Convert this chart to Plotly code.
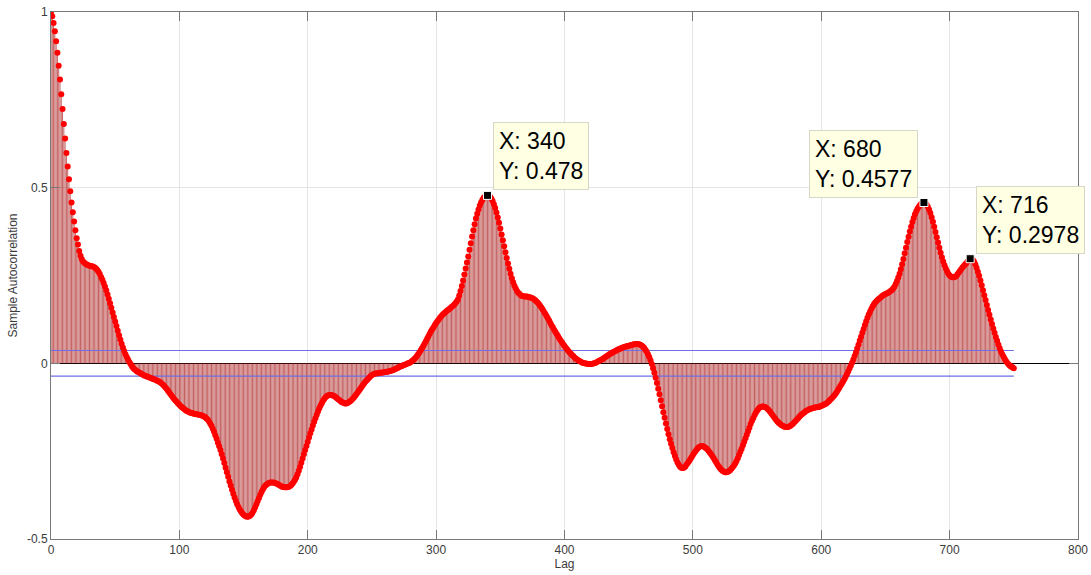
import plotly.graph_objects as go

# Sample autocorrelation values, lags 0..750
acf_000 = [1.000, .988, .969, .945, .917, .884, .847, .808, .766, .724,
           .681, .640, .599, .560, .524, .490, .458, .430, .404, .379,
           .356, .338, .320, .306, .296, .290, .286, .283, .281, .279,
           .278, .277, .276, .275, .273, .270, .266, .261, .254, .246,
           .238, .229, .219, .208, .196, .184, .171, .158, .145, .132,
           .119, .106, .093, .080, .068, .056, .045, .035, .026, .018,
           .011, .004, -.002, -.008, -.013, -.017, -.020, -.023, -.025, -.027,
           -.029, -.031, -.033, -.035, -.036, -.038, -.039, -.041, -.042, -.044,
           -.045, -.046, -.048, -.050, -.052, -.054, -.057, -.060, -.064, -.068,
           -.072, -.077, -.082, -.087, -.092, -.097, -.102, -.106, -.110, -.114]
acf_100 = [-.118, -.122, -.125, -.128, -.131, -.134, -.136, -.138, -.140, -.141,
           -.142, -.143, -.144, -.145, -.145, -.146, -.147, -.148, -.149, -.151,
           -.153, -.156, -.160, -.165, -.171, -.178, -.186, -.195, -.205, -.215,
           -.226, -.236, -.247, -.259, -.271, -.284, -.297, -.310, -.323, -.336,
           -.348, -.360, -.371, -.382, -.392, -.401, -.409, -.416, -.422, -.427,
           -.431, -.434, -.436, -.437, -.436, -.434, -.430, -.425, -.418, -.410,
           -.401, -.392, -.383, -.374, -.366, -.359, -.353, -.348, -.345, -.342,
           -.340, -.339, -.339, -.339, -.340, -.341, -.343, -.345, -.347, -.349,
           -.351, -.352, -.353, -.353, -.353, -.352, -.350, -.347, -.343, -.338,
           -.332, -.325, -.316, -.306, -.295, -.283, -.271, -.259, -.247, -.235]
acf_200 = [-.223, -.211, -.199, -.188, -.177, -.166, -.156, -.146, -.137, -.128,
           -.120, -.113, -.106, -.101, -.096, -.093, -.091, -.090, -.090, -.091,
           -.092, -.094, -.097, -.100, -.103, -.106, -.109, -.111, -.113, -.114,
           -.114, -.113, -.111, -.108, -.105, -.101, -.097, -.092, -.087, -.082,
           -.077, -.072, -.067, -.062, -.057, -.052, -.048, -.044, -.040, -.036,
           -.033, -.031, -.030, -.029, -.028, -.028, -.027, -.027, -.026, -.026,
           -.025, -.024, -.024, -.023, -.022, -.021, -.020, -.018, -.017, -.015,
           -.013, -.011, -.009, -.008, -.006, -.005, -.003, -.002, .000, .001,
           .003, .006, .009, .012, .016, .021, .026, .031, .037, .043,
           .049, .056, .063, .070, .077, .084, .091, .097, .103, .109]
acf_300 = [.115, .120, .125, .130, .134, .138, .142, .145, .148, .151,
           .154, .157, .160, .163, .167, .171, .176, .182, .193, .206,
           .220, .236, .253, .270, .287, .304, .323, .342, .361, .379,
           .396, .412, .426, .438, .449, .458, .465, .471, .475, .477,
           .478, .477, .474, .469, .462, .453, .442, .429, .415, .400,
           .384, .367, .350, .333, .316, .300, .284, .269, .255, .242,
           .231, .221, .213, .206, .201, .197, .194, .192, .191, .190,
           .190, .190, .189, .188, .187, .185, .183, .180, .177, .173,
           .169, .164, .159, .153, .147, .141, .135, .128, .122, .115,
           .108, .102, .095, .089, .083, .077, .071, .065, .060, .054]
acf_400 = [.049, .044, .040, .035, .031, .027, .023, .020, .016, .013,
           .010, .008, .006, .004, .002, .001, .000, -.001, -.001, -.002,
           -.002, -.002, -.001, .000, .001, .003, .005, .007, .009, .011,
           .013, .016, .018, .021, .023, .026, .028, .030, .032, .034,
           .036, .038, .040, .041, .043, .044, .046, .047, .048, .049,
           .050, .051, .052, .053, .054, .054, .055, .055, .054, .053,
           .051, .048, .044, .039, .033, .026, .018, .009, -.002, -.014,
           -.027, -.041, -.056, -.072, -.088, -.105, -.122, -.139, -.155, -.171,
           -.187, -.202, -.216, -.229, -.241, -.253, -.264, -.274, -.282, -.289,
           -.294, -.297, -.298, -.297, -.294, -.289, -.284, -.279, -.273, -.267]
acf_500 = [-.261, -.255, -.250, -.245, -.241, -.238, -.236, -.235, -.236, -.238,
           -.241, -.244, -.248, -.253, -.258, -.263, -.269, -.275, -.281, -.287,
           -.293, -.298, -.302, -.306, -.308, -.310, -.310, -.309, -.307, -.304,
           -.300, -.296, -.291, -.285, -.278, -.270, -.261, -.252, -.243, -.233,
           -.223, -.213, -.203, -.193, -.183, -.173, -.164, -.156, -.148, -.141,
           -.135, -.130, -.126, -.124, -.123, -.123, -.124, -.126, -.129, -.133,
           -.137, -.142, -.147, -.152, -.157, -.162, -.166, -.170, -.173, -.176,
           -.178, -.180, -.181, -.181, -.181, -.180, -.178, -.175, -.172, -.168,
           -.164, -.160, -.156, -.152, -.148, -.145, -.142, -.139, -.136, -.134,
           -.132, -.130, -.129, -.128, -.127, -.126, -.125, -.125, -.124, -.123]
acf_600 = [-.121, -.120, -.118, -.116, -.114, -.111, -.108, -.104, -.100, -.096,
           -.092, -.087, -.082, -.076, -.070, -.064, -.058, -.052, -.045, -.038,
           -.031, -.023, -.015, -.007, .002, .011, .021, .031, .042, .053,
           .065, .076, .087, .098, .109, .120, .130, .139, .147, .155,
           .162, .168, .173, .177, .181, .184, .187, .190, .193, .195,
           .197, .199, .201, .203, .206, .209, .213, .218, .226, .234,
           .244, .255, .268, .282, .297, .313, .329, .345, .360, .375,
           .389, .402, .414, .424, .433, .440, .446, .451, .455, .457,
           .4577, .456, .452, .446, .438, .428, .416, .403, .389, .374,
           .359, .344, .329, .315, .302, .290, .279, .270, .262, .255]
acf_700 = [.250, .247, .245, .245, .246, .248, .253, .258, .263, .268,
           .273, .277, .281, .285, .290, .294, .2978, .297, .295, .290,
           .282, .272, .261, .249, .236, .222, .208, .194, .180, .166,
           .152, .138, .125, .112, .099, .087, .075, .064, .053, .043,
           .034, .026, .019, .012, .006, .001, -.003, -.007, -.010, -.012,
           -.014]

acf = acf_000 + acf_100 + acf_200 + acf_300 + acf_400 + acf_500 + acf_600 + acf_700
lags = list(range(len(acf)))

conf_bound = 0.0365
max_lag = 750

tip_x = [340, 680, 716]
tip_y = [0.478, 0.4577, 0.2978]
tip_text = ["X: 340<br>Y: 0.478", "X: 680<br>Y: 0.4577", "X: 716<br>Y: 0.2978"]

# build stems
sx, sy = [], []
for k, v in zip(lags, acf):
    sx += [k, k, None]
    sy += [0, v, None]

fig = go.Figure()
fig.add_trace(go.Scatter(x=sx, y=sy, mode="lines",
                         line=dict(color="rgb(170,30,30)", width=0.7),
                         hoverinfo="skip"))
fig.add_trace(go.Scatter(x=[0, max_lag], y=[conf_bound, conf_bound], mode="lines",
                         line=dict(color="rgb(110,110,230)", width=1.2)))
fig.add_trace(go.Scatter(x=[0, max_lag], y=[-conf_bound, -conf_bound], mode="lines",
                         line=dict(color="rgb(110,110,230)", width=1.2)))
fig.add_trace(go.Scatter(x=lags, y=acf, mode="markers",
                         marker=dict(color="rgb(255,0,0)", size=6, line=dict(width=0))))
fig.add_trace(go.Scatter(x=tip_x, y=tip_y, mode="markers",
                         marker=dict(color="black", symbol="square", size=8,
                                     line=dict(color="white", width=1))))

anchors = [("left", 6), ("right", -6), ("left", 6)]
for (xa, xs), tx, ty, tt in zip(anchors, tip_x, tip_y, tip_text):
    fig.add_annotation(x=tx, y=ty, xref="x", yref="y", text=tt, showarrow=False,
                       xanchor=xa, yanchor="bottom", xshift=xs, yshift=5,
                       align="left", bgcolor="rgb(255,255,228)",
                       bordercolor="rgb(215,215,200)", borderwidth=1, borderpad=5,
                       font=dict(family="Liberation Sans, Arial", size=23, color="black"))

axis_common = dict(showline=True, linecolor="rgb(120,120,120)", linewidth=1,
                   mirror="ticks", ticks="inside", ticklen=9, tickcolor="rgb(120,120,120)",
                   showgrid=True, gridcolor="rgb(228,228,228)", gridwidth=1,
                   automargin=False,
                   tickfont=dict(size=12, color="rgb(60,60,60)"))

fig.update_layout(
    width=1091, height=575,
    margin=dict(l=51, r=13, t=12, b=36),
    plot_bgcolor="white", paper_bgcolor="white",
    showlegend=False,
    font=dict(family="Liberation Sans, Arial", size=12, color="rgb(60,60,60)"),
    xaxis=dict(range=[0, 800], tick0=0, dtick=100, zeroline=False,
               title=dict(text="Lag", standoff=2, font=dict(size=12)), **axis_common),
    yaxis=dict(range=[-0.5, 1], tickvals=[-0.5, 0, 0.5, 1],
               ticktext=["-0.5", "0", "0.5", "1"],
               zeroline=True, zerolinecolor="black", zerolinewidth=1,
               title=dict(text="Sample Autocorrelation", standoff=6, font=dict(size=12)),
               **axis_common),
)

fig.write_html("out.html", config={"displayModeBar": False},
               post_script="document.body.style.margin='0px';document.body.style.overflow='hidden';")
